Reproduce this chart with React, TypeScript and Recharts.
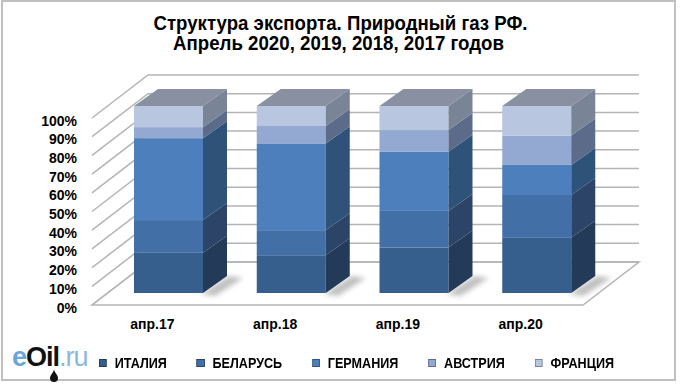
import { BarChart, Bar, XAxis, YAxis, CartesianGrid } from "recharts";

const categories = ["апр.17", "апр.18", "апр.19", "апр.20"];
const italy = [21.5, 20.2, 24.3, 29.5];
const belarus = [17.5, 13.4, 19.6, 22.9];
const germany = [43.8, 46.4, 31.6, 16.1];
const austria = [5.9, 9.3, 11.6, 15.7];
const france = [11.3, 10.7, 12.9, 15.8];
const yTicks = [0, 0.1, 0.2, 0.3, 0.4, 0.5, 0.6, 0.7, 0.8, 0.9, 1];

const seriesNames = ["ИТАЛИЯ", "БЕЛАРУСЬ", "ГЕРМАНИЯ", "АВСТРИЯ", "ФРАНЦИЯ"];
const seriesKeys = ["italy", "belarus", "germany", "austria", "france"];
const frontColors = ["#375f8d", "#4270a6", "#4d7fbd", "#93a9d1", "#b8c6e0"];
const sideColors = ["#233a58", "#2c4467", "#2f5279", "#5c6b8a", "#798497"];
const TOP_COLOR = "#8890a2";

const titleLines = ["Структура экспорта. Природный газ РФ.", "Апрель 2020, 2019, 2018, 2017 годов"];

const data = categories.map((name, i) => ({
  name,
  italy: italy[i],
  belarus: belarus[i],
  germany: germany[i],
  austria: austria[i],
  france: france[i],
}));

// 3D offsets (oblique projection)
const BAR_DX = 24;
const BAR_DY = -17;
const WALL_DX = 41;
const WALL_DY = -31;
const FLOOR_DX = -15;
const FLOOR_DY = 12;

const W = 681;
const H = 385;
const MARGIN = { top: 106, right: 83, bottom: 62, left: 47 };
const PLOT_BOTTOM = H - MARGIN.bottom - 30;

const FONT = "'Liberation Sans', Arial, sans-serif";
const GRID = "#b4b4b4";
const SQUEEZE = 0.84; // reference text is condensed

function WallLine(p: any) {
  const { x1, x2, y1 } = p;
  const isFloor = Math.abs(y1 - PLOT_BOTTOM) < 1;
  return (
    <g key={p.key}>
      {isFloor && (
        <polygon
          points={`${x1 + FLOOR_DX},${y1 + FLOOR_DY} ${x2 + FLOOR_DX},${y1 + FLOOR_DY} ${x2 + WALL_DX},${y1 + WALL_DY} ${x1 + WALL_DX},${y1 + WALL_DY}`}
          fill="#fff"
          stroke={GRID}
          strokeWidth={1.5}
        />
      )}
      <polyline
        points={`${x1 + FLOOR_DX},${y1 + FLOOR_DY} ${x1 + WALL_DX},${y1 + WALL_DY} ${x2 + WALL_DX},${y1 + WALL_DY}`}
        fill="none"
        stroke={GRID}
        strokeWidth={1.5}
      />
    </g>
  );
}

function makeShape(idx: number) {
  const isTop = idx === seriesKeys.length - 1;
  const isBottom = idx === 0;
  return (props: any) => {
    const { x, y, width: w, height: h } = props;
    if (w == null || h == null) return <g />;
    return (
      <g>
        {isBottom && (
          <polygon
            points={`${x + w - 2},${y + h + 1} ${x + w + BAR_DX + 2},${y + h + BAR_DY} ${x + w + BAR_DX + 16},${y + h + BAR_DY + 2} ${x + w + 12},${y + h + 3}`}
            fill="#8c8c8c"
            opacity={0.55}
            filter="url(#shadowBlur)"
          />
        )}
        <rect x={x} y={y} width={w} height={h} fill={frontColors[idx]} />
        <polygon
          points={`${x + w},${y} ${x + w + BAR_DX},${y + BAR_DY} ${x + w + BAR_DX},${y + h + BAR_DY} ${x + w},${y + h}`}
          fill={sideColors[idx]}
        />
        {isTop && (
          <polygon
            points={`${x},${y} ${x + BAR_DX},${y + BAR_DY} ${x + w + BAR_DX},${y + BAR_DY} ${x + w},${y}`}
            fill={TOP_COLOR}
          />
        )}
      </g>
    );
  };
}

const shapes = seriesKeys.map((_, i) => makeShape(i));

function YTick(p: any) {
  return (
    <text
      x={p.x}
      y={p.y + 14.5}
      textAnchor="end"
      dominantBaseline="central"
      fontFamily={FONT}
      fontWeight="bold"
      fontSize={14}
      fill="#000"
    >
      {`${Math.round(p.payload.value * 100)}%`}
    </text>
  );
}

function XTick(p: any) {
  return (
    <text
      x={p.x - 16}
      y={PLOT_BOTTOM + 31}
      textAnchor="middle"
      dominantBaseline="central"
      fontFamily={FONT}
      fontWeight="bold"
      fontSize={14}
      fill="#000"
    >
      {p.payload.value}
    </text>
  );
}

export default function App() {
  return (
    <div style={{ position: "absolute", left: 0, top: 0, width: W, height: H, background: "#fff" }}>
      <div
        style={{
          position: "absolute",
          left: 1,
          top: 0,
          width: 675,
          height: 381,
          boxSizing: "border-box",
          border: "2px solid #c0c0c0",
        }}
      />
      <svg width={W} height={60} style={{ position: "absolute", left: 0, top: 0 }}>
        <text
          x={340.5}
          y={23}
          textAnchor="middle"
          dominantBaseline="central"
          fontFamily={FONT}
          fontWeight="bold"
          fontSize={20}
          textLength={374}
          lengthAdjust="spacingAndGlyphs"
        >
          {titleLines[0]}
        </text>
        <text
          x={338.5}
          y={43}
          textAnchor="middle"
          dominantBaseline="central"
          fontFamily={FONT}
          fontWeight="bold"
          fontSize={20}
          textLength={331}
          lengthAdjust="spacingAndGlyphs"
        >
          {titleLines[1]}
        </text>
      </svg>
      <div style={{ position: "absolute", left: 0, top: 0 }}>
        <BarChart width={W} height={H} data={data} margin={MARGIN} stackOffset="expand" barSize={69}>
          <defs>
            <filter id="shadowBlur" x="-50%" y="-50%" width="200%" height="200%">
              <feGaussianBlur stdDeviation="2.5" />
            </filter>
          </defs>
          <CartesianGrid horizontal={WallLine} vertical={false} />
          <XAxis
            dataKey="name"
            height={30}
            axisLine={false}
            tickLine={false}
            tickSize={0}
            interval={0}
            tick={<XTick />}
          />
          <YAxis
            width={60}
            domain={[0, 1]}
            ticks={yTicks}
            interval={0}
            axisLine={false}
            tickLine={false}
            tickSize={0}
            tickMargin={30}
            tick={<YTick />}
          />
          {seriesKeys.map((k, i) => (
            <Bar
              key={k}
              dataKey={k}
              name={seriesNames[i]}
              stackId="a"
              fill={frontColors[i]}
              shape={shapes[i]}
              isAnimationActive={false}
            />
          ))}
        </BarChart>
      </div>
      <div
        style={{
          position: "absolute",
          left: 12,
          top: 342,
          fontFamily: FONT,
          fontSize: 27,
          fontWeight: "bold",
          letterSpacing: -1,
          lineHeight: "30px",
        }}
      >
        <span style={{ color: "#6aa6d8" }}>e</span>
        <span style={{ color: "#111" }}>Oil</span>
        <span style={{ color: "#8ab8e0", fontWeight: "normal" }}>.ru</span>
        <svg width={10} height={14} style={{ position: "absolute", left: 37, top: 26 }}>
          <path d="M5 1 C5 4 1 7 1 10 A4 4 0 0 0 9 10 C9 7 5 4 5 1 Z" fill="#111" />
        </svg>
      </div>
      <div
        style={{
          position: "absolute",
          left: 99,
          top: 354,
          display: "flex",
          alignItems: "center",
          gap: 30 / SQUEEZE,
          fontFamily: FONT,
          fontWeight: "bold",
          fontSize: 15,
          color: "#000",
          transform: `scaleX(${SQUEEZE})`,
          transformOrigin: "left center",
          whiteSpace: "nowrap",
        }}
      >
        {seriesNames.map((n, i) => (
          <div key={n} style={{ display: "flex", alignItems: "center" }}>
            <span
              style={{
                display: "inline-block",
                width: 6 / SQUEEZE,
                height: 6,
                background: frontColors[i],
                border: `1px solid ${sideColors[i]}`,
                marginRight: 8 / SQUEEZE,
              }}
            />
            <span>{n}</span>
          </div>
        ))}
      </div>
    </div>
  );
}
